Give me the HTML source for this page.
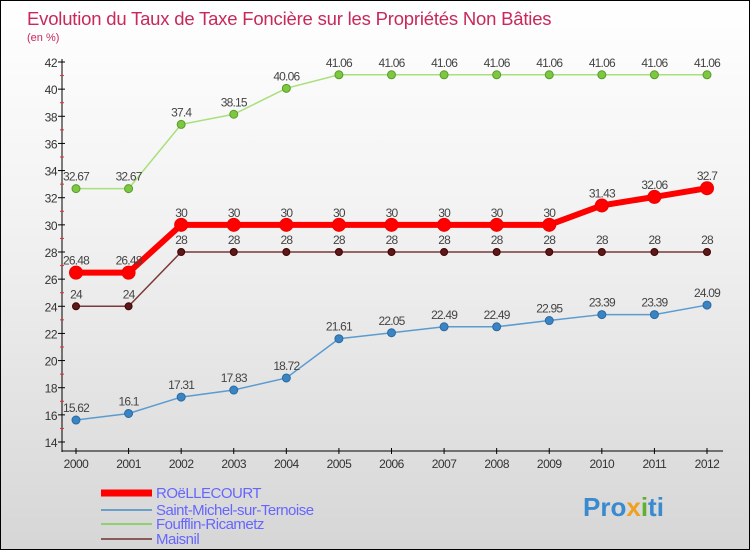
<!DOCTYPE html>
<html><head><meta charset="utf-8"><style>
body{margin:0}
#c{position:relative;width:750px;height:550px;overflow:hidden;font-family:"Liberation Sans","DejaVu Sans",sans-serif;background:linear-gradient(#fff 0%,#f2f2f2 40%,#d6d6d6 100%);box-sizing:border-box;border:1px solid #000}
</style></head><body>
<div id="c">
<svg id="s" width="750" height="550" style="position:absolute;left:0;top:0">
<text x="26" y="24" font-size="18.5" letter-spacing="-0.2" fill="#c8285a">Evolution du Taux de Taxe Foncière sur les Propriétés Non Bâties</text>
<text x="26" y="40" font-size="11" fill="#c8285a">(en %)</text>
<line x1="61" y1="58" x2="61" y2="451" stroke="#000"/>
<line x1="61" y1="450" x2="722" y2="450" stroke="#000"/>
<g id="g"></g>
</svg>
</div>
<script>
const years=[2000,2001,2002,2003,2004,2005,2006,2007,2008,2009,2010,2011,2012];
const yTicks=[14,16,18,20,22,24,26,28,30,32,34,36,38,40,42];
const roel=[26.48,26.48,30,30,30,30,30,30,30,30,31.43,32.06,32.7];
const saint=[15.62,16.1,17.31,17.83,18.72,21.61,22.05,22.49,22.49,22.95,23.39,23.39,24.09];
const fouf=[32.67,32.67,37.4,38.15,40.06,41.06,41.06,41.06,41.06,41.06,41.06,41.06,41.06];
const mais=[24,24,28,28,28,28,28,28,28,28,28,28,28];
const X=i=>75+i*(706-75)/12;
const Y=v=>441-(v-14)*(441-61)/28;
const g=document.getElementById('g');
const NS='http://www.w3.org/2000/svg';
function mk(t,a){const e=document.createElementNS(NS,t);for(const k in a)e.setAttribute(k,a[k]);g.appendChild(e);return e;}
yTicks.forEach(v=>{
 const l=mk('line',{x1:57,x2:64,y1:Y(v),y2:Y(v),stroke:'#000'});
 
 
 if(v<42){const m=mk('line',{x1:59,x2:63,y1:Y(v+1),y2:Y(v+1),stroke:'#e03030'});
 
 }
 const t=mk('text',{x:56,y:Y(v)+5,'font-size':12,fill:'#333','text-anchor':'end','letter-spacing':'-0.5'});
 t.textContent=v;
 
 
});
years.forEach((yr,i)=>{
 const l=mk('line',{x1:X(i),x2:X(i),y1:447,y2:453,stroke:'#000'});
 
 
 const t=mk('text',{x:X(i),y:467,'font-size':12,fill:'#333','text-anchor':'middle','letter-spacing':'-0.5'});
 t.textContent=yr;
 
 
});
function series(d,col,w,r,name,dot,stroke){
 const p=mk('polyline',{points:d.map((v,i)=>X(i)+','+Y(v)).join(' '),fill:'none',stroke:col,'stroke-width':w});
 
 
 d.forEach((v,i)=>{
  const c=mk('circle',{cx:X(i),cy:Y(v),r:r,fill:dot,stroke:stroke,'stroke-width':1});
  
  
  const t=mk('text',{x:X(i),y:Y(v)-8,'font-size':12,fill:'#444','text-anchor':'middle','letter-spacing':'-0.8'});
  t.textContent=v;
  
  
 });
}
series(mais,'#7a3a3a',1.5,3.5,'maisnil','#5a1a1a','#400');
series(saint,'#5b9bd0',1.5,4,'saint-michel','#3b84c4','#2a6aa0');
series(fouf,'#a8e07a',1.5,4,'foufflin','#7cc840','#5a9a2a');
series(roel,'#ff0000',6,6.5,'roellecourt','#ff0000','#e00');
const leg=[['ROëLLECOURT','#ff0000',7,492],['Saint-Michel-sur-Ternoise','#6aa0c8',2,509],['Foufflin-Ricametz','#90d070',2,523],['Maisnil','#8a5a5a',2,538]];
leg.forEach(e=>{
 const l=mk('line',{x1:100,x2:151,y1:e[3],y2:e[3],stroke:e[1],'stroke-width':e[2]});
 
 
 const t=mk('text',{x:155,y:e[3]+5,'font-size':15,fill:'#6666ff','letter-spacing':'-0.5'});
 t.textContent=e[0];
 
 
});
const b=mk('text',{x:582,y:515,'font-size':26,'font-weight':'bold',fill:'#3a8ad0'});
b.innerHTML='Pro<tspan fill="#f0a020">x</tspan><tspan fill="#60b030">i</tspan>ti';


</script>
</body></html>
